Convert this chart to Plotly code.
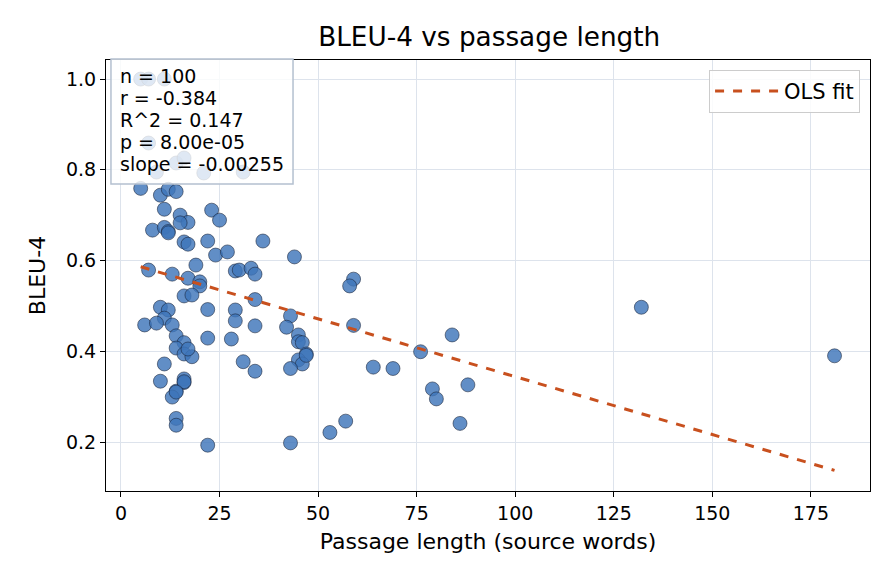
import plotly.graph_objects as go

# Passage length (source words) and BLEU-4 per item
passage_len = [
    5, 7, 11, 7, 9, 14, 16, 21, 31,
    5, 10, 12, 14, 11, 15, 17, 8, 11, 12, 12, 15, 23, 25, 16, 17, 22, 24, 27, 19,
    7, 13, 17, 20, 20, 16, 18, 29, 30, 33, 34, 36, 44, 34, 10, 12, 11, 6, 9, 13,
    14, 16, 14, 16, 18, 17, 22, 22, 29, 29, 28, 11, 10, 16, 16, 14, 13, 14, 14, 22,
    31, 34, 34, 43, 42, 45, 45, 46, 47, 45, 46, 43, 59, 58, 59, 64, 69, 76, 84, 79,
    80, 88, 86, 57, 53, 43, 132, 181, 47, 16, 14,
]
bleu4 = [
    1.000, 1.000, 1.000, 0.859, 0.795, 0.815, 0.826, 0.793, 0.795,
    0.759, 0.744, 0.757, 0.752, 0.713, 0.700, 0.684, 0.667, 0.673, 0.664, 0.661,
    0.683, 0.711, 0.689, 0.641, 0.636, 0.643, 0.612, 0.619, 0.590,
    0.579, 0.570, 0.561, 0.553, 0.544, 0.522, 0.524, 0.577, 0.579, 0.583, 0.570,
    0.643, 0.608, 0.514, 0.497, 0.491, 0.473, 0.458, 0.462, 0.458,
    0.434, 0.419, 0.407, 0.394, 0.388, 0.405, 0.492, 0.429, 0.491, 0.467, 0.427,
    0.372, 0.334, 0.339, 0.331, 0.312, 0.299, 0.252, 0.237, 0.193,
    0.377, 0.356, 0.456, 0.478, 0.453, 0.436, 0.421, 0.419, 0.394, 0.381, 0.372,
    0.362, 0.559, 0.544, 0.457, 0.365, 0.362, 0.399, 0.436, 0.317,
    0.295, 0.326, 0.241, 0.246, 0.221, 0.198, 0.497, 0.390, 0.391, 0.333, 0.310,
]

# Reported fit statistics
stats_lines = ["n = 100", "r = -0.384", "R^2 = 0.147", "p = 8.00e-05", "slope = -0.00255"]
fit_slope = -0.00255
fit_intercept = 0.599

x_ticks = [0, 25, 50, 75, 100, 125, 150, 175]
y_ticks = [0.2, 0.4, 0.6, 0.8, 1.0]

x_fit = [min(passage_len), max(passage_len)]
y_fit = [fit_intercept + fit_slope * v for v in x_fit]

FONT = "DejaVu Sans"

fig = go.Figure()
fig.add_trace(go.Scatter(
    x=passage_len, y=bleu4, mode="markers", showlegend=False,
    marker=dict(size=14, color="rgba(62,117,185,0.82)",
                line=dict(color="rgba(20,30,50,0.9)", width=0.6)),
))
fig.add_trace(go.Scatter(
    x=x_fit, y=y_fit, mode="lines", name="OLS fit",
    line=dict(color="#c8501e", width=3, dash="dash"),
))

# stats box (matplotlib-style text box)
fig.add_shape(type="rect", xref="paper", yref="paper",
              x0=0.0065, x1=0.2448, y0=0.7123, y1=1.0023, layer="above",
              fillcolor="rgba(255,255,255,0.8)", line=dict(color="#b4c0d0", width=1.5))
line_y = [0.9629, 0.9118, 0.8608, 0.8097, 0.7587]
for txt, yy in zip(stats_lines, line_y):
    fig.add_annotation(
        xref="paper", yref="paper", x=0.0157, y=yy, xanchor="left", yanchor="middle",
        text=txt, align="left", showarrow=False,
        font=dict(family=FONT, size=19, color="black"),
    )

axis_common = dict(
    showline=True, linecolor="black", linewidth=1.2, mirror=True,
    ticks="outside", ticklen=5, tickcolor="black", tickwidth=1.2,
    showgrid=True, gridcolor="#dde3ec", gridwidth=1, zeroline=False,
    tickfont=dict(family=FONT, size=19, color="black"),
)

fig.update_layout(
    width=896, height=584,
    margin=dict(l=106, r=26, t=60, b=93),
    paper_bgcolor="white", plot_bgcolor="white",
    title=dict(text="BLEU-4 vs passage length", x=0.546, xanchor="center", y=0.937, yanchor="middle",
               font=dict(family=FONT, size=26.3, color="black")),
    xaxis=dict(axis_common, range=[-3.8, 190], tickvals=x_ticks,
               title=dict(text="Passage length (source words)", font=dict(family=FONT, size=22, color="black"), standoff=10)),
    yaxis=dict(axis_common, range=[0.092, 1.042], tickvals=y_ticks, tickformat=".1f",
               title=dict(text="BLEU-4", font=dict(family=FONT, size=22, color="black"), standoff=14)),
    legend=dict(x=0.987, y=0.977, xanchor="right", yanchor="top", itemwidth=64,
                bgcolor="rgba(255,255,255,0.85)", bordercolor="#cccccc", borderwidth=1,
                font=dict(family=FONT, size=21, color="black")),
)

fig.write_html("out.html")
